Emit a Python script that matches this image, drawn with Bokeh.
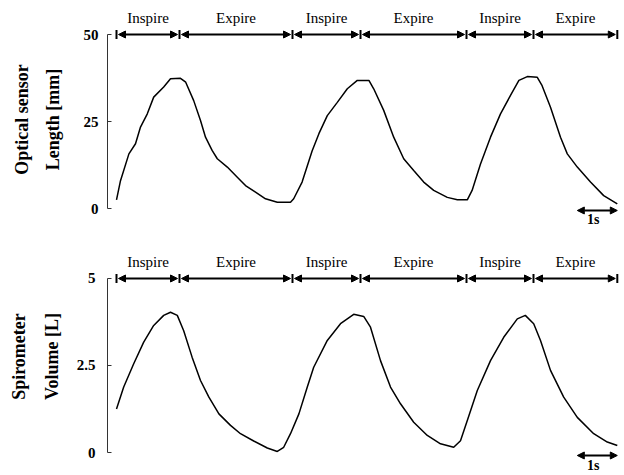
import math
from bokeh.plotting import figure
from bokeh.layouts import column
from bokeh.models import Arrow, NormalHead, ColumnDataSource, FixedTicker, LinearAxis
from bokeh.embed import file_html
from bokeh.resources import INLINE
from bokeh.core.properties import value

# ---------------- data ----------------
phase_labels = ["Inspire", "Expire", "Inspire", "Expire", "Inspire", "Expire"]
phase_bounds = [0.0, 1.575, 4.4, 6.1, 8.75, 10.425, 12.52]

scale_bar = [11.52, 12.52]   # 1 s
scale_text = "1s"

t_opt = [0.0, 0.1, 0.31, 0.475, 0.6, 0.77, 0.93, 1.18, 1.35, 1.6, 1.73, 1.93, 2.1,
         2.225, 2.39, 2.52, 2.77, 3.02, 3.225, 3.475, 3.725, 4.02, 4.35, 4.43, 4.64,
         4.89, 5.06, 5.27, 5.52, 5.77, 6.02, 6.31, 6.43, 6.68, 6.93, 7.18, 7.43, 7.68,
         7.93, 8.27, 8.52, 8.77, 8.89, 9.1, 9.35, 9.6, 9.85, 10.06, 10.27, 10.52, 10.64,
         10.85, 11.1, 11.27, 11.52, 11.85, 12.18, 12.52]
v_opt = [2.5, 8.0, 15.7, 18.6, 23.4, 27.2, 32.0, 34.9, 37.3, 37.4, 36.3, 31.0, 25.3,
         20.5, 16.7, 14.3, 11.9, 9.0, 6.6, 4.7, 2.8, 1.8, 1.8, 2.8, 7.6,
         16.5, 21.5, 26.7, 30.5, 34.4, 36.8, 36.8, 34.4, 28.2, 20.5, 14.3, 10.9, 7.6,
         5.2, 3.2, 2.5, 2.5, 5.2, 12.8, 20.5, 27.2, 32.5, 36.8, 37.9, 37.7, 35.3,
         29.1, 20.5, 15.7, 11.9, 7.6, 3.7, 1.3]

t_spi = [0.0, 0.18, 0.43, 0.68, 0.93, 1.18, 1.35, 1.52, 1.68, 1.89, 2.1, 2.31, 2.56,
         2.85, 3.1, 3.43, 3.77, 4.02, 4.18, 4.35, 4.56, 4.77, 4.93, 5.27, 5.6, 5.93,
         6.18, 6.35, 6.6, 6.85, 7.1, 7.43, 7.77, 8.1, 8.43, 8.6, 8.77, 9.02, 9.35,
         9.68, 10.02, 10.22, 10.43, 10.6, 10.85, 11.18, 11.52, 11.93, 12.27, 12.52]
v_spi = [1.25, 1.88, 2.55, 3.17, 3.65, 3.94, 4.03, 3.94, 3.5, 2.74, 2.07, 1.59, 1.11,
         0.78, 0.54, 0.33, 0.13, 0.03, 0.15, 0.54, 1.11, 1.88, 2.45, 3.22, 3.7, 3.97,
         3.91, 3.6, 2.64, 1.88, 1.4, 0.87, 0.49, 0.25, 0.15, 0.34, 0.92, 1.78, 2.64,
         3.31, 3.84, 3.94, 3.7, 3.22, 2.36, 1.59, 1.01, 0.54, 0.3, 0.2]

opt_ticks = [0, 25, 50]
opt_tick_labels = ["0", "25", "50"]
spi_ticks = [0, 2.5, 5]
spi_tick_labels = ["0", "2.5", "5"]

opt_label = ["Optical sensor", "Length [mm]"]
spi_label = ["Spirometer", "Volume [L]"]

SERIF = "Liberation Serif"
X_RANGE = (-0.225, 12.575)
W = 619
LEFT = 107


def panel(t, v, ticks, tick_labels, label_lines, height, y_range, px_per_unit,
          scale_y, scale_text_y, tick_standoff, lbl_standoff, outer_standoff):
    top = ticks[-1]
    p = figure(width=W, height=height, x_range=X_RANGE, y_range=y_range,
               output_backend="svg", toolbar_location=None,
               min_border_left=LEFT, min_border_right=0, min_border_top=0,
               min_border_bottom=0)
    p.xaxis.visible = False
    p.grid.visible = False
    p.outline_line_color = None
    p.background_fill_color = "white"
    p.border_fill_color = "white"

    ax = p.yaxis[0]
    ax.ticker = FixedTicker(ticks=ticks)
    ax.major_label_overrides = {tk: lb for tk, lb in zip(ticks, tick_labels)}
    ax.bounds = (ticks[0], ticks[-1])
    ax.minor_tick_line_color = None
    ax.major_tick_in = 4
    ax.major_tick_out = 0
    ax.axis_line_color = "#333333"
    ax.major_tick_line_color = "#333333"
    ax.major_label_text_font = SERIF
    ax.major_label_text_font_style = "bold"
    ax.major_label_text_font_size = "15px"
    ax.major_label_text_color = "black"
    ax.major_label_standoff = tick_standoff
    ax.axis_label = label_lines[1]
    ax.axis_label_text_font = SERIF
    ax.axis_label_text_font_style = "bold"
    ax.axis_label_text_font_size = "18px"
    ax.axis_label_text_color = "black"
    ax.axis_label_standoff = lbl_standoff

    outer = LinearAxis(ticker=FixedTicker(ticks=[]), axis_line_color=None,
                       major_tick_line_color=None, minor_tick_line_color=None,
                       major_tick_out=0, major_tick_in=0, major_label_standoff=0,
                       major_label_text_font_size="0px",
                       axis_label=label_lines[0], axis_label_text_font=SERIF,
                       axis_label_text_font_style="bold",
                       axis_label_text_font_size="18px",
                       axis_label_text_color="black",
                       axis_label_standoff=outer_standoff)
    p.add_layout(outer, "left")

    # curve
    p.line(t, v, line_color="black", line_width=1.5)

    # phase arrows at the top of the axis
    gap = 2.0 / 40.0
    x0 = [b + gap for b in phase_bounds[:-1]]
    x1 = [b - gap for b in phase_bounds[1:]]
    src = ColumnDataSource(dict(x0=x0, x1=x1, y=[top] * len(x0)))
    p.add_layout(Arrow(x_start="x0", x_end="x1", y_start="y", y_end="y", source=src,
                       line_color="black", line_width=2,
                       start=NormalHead(size=7, fill_color="black", line_color="black"),
                       end=NormalHead(size=7, fill_color="black", line_color="black")))
    p.scatter(phase_bounds, [top] * len(phase_bounds), marker="dash", angle=math.pi / 2,
              size=9, line_color="black", line_width=2)

    centers = [(a + b) / 2 for a, b in zip(phase_bounds[:-1], phase_bounds[1:])]
    label_y = top + 16.5 / px_per_unit
    p.text(centers, [label_y] * len(centers), text=phase_labels,
           text_font=value(SERIF), text_font_size="15px", text_align="center",
           text_baseline="middle", text_color="black")

    # 1 s scale bar
    p.add_layout(Arrow(x_start=scale_bar[0], x_end=scale_bar[1], y_start=scale_y,
                       y_end=scale_y, line_color="black", line_width=2,
                       start=NormalHead(size=7, fill_color="black", line_color="black"),
                       end=NormalHead(size=7, fill_color="black", line_color="black")))
    p.text([sum(scale_bar) / 2 - 0.1], [scale_text_y], text=[scale_text],
           text_font=value(SERIF), text_font_style="bold", text_font_size="14px",
           text_align="center", text_baseline="middle", text_color="black")
    return p


p1 = panel(t_opt, v_opt, opt_ticks, opt_tick_labels, opt_label, 238,
           (-8.62, 59.77), 3.48, -0.57, -3.16, 9, 18, 8)
p2 = panel(t_spi, v_spi, spi_ticks, spi_tick_labels, spi_label, 236,
           (-0.632, 6.149), 34.8, -0.086, -0.374, 12, 12, 10)

layout = column(p1, p2, spacing=0)
open("out.html", "w").write(file_html(layout, INLINE))
